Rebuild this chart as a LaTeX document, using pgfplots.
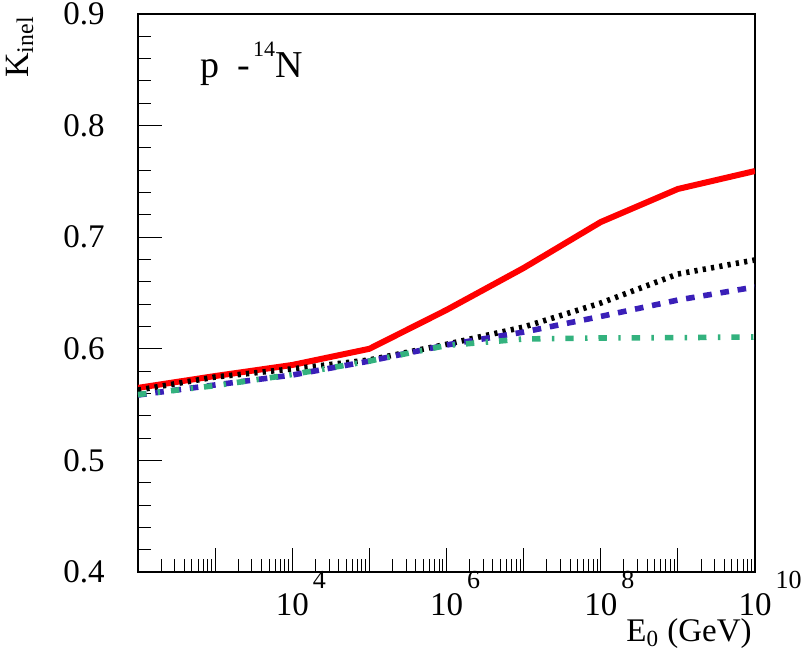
\documentclass[border=0pt]{standalone}
\usepackage{fontspec}
\setmainfont{Liberation Serif}
\usepackage{pgfplots}
\pgfplotsset{compat=1.18}
\definecolor{rootblue}{RGB}{58,31,184}
\definecolor{rootgreen}{RGB}{51,178,126}
\newcommand{\tfont}{\fontsize{16.5bp}{18bp}\selectfont}
\newcommand{\pw}[1]{10\rlap{\hspace{2bp}\smash{\raisebox{13.5bp}{\fontsize{13bp}{13bp}\selectfont #1}}}}

\begin{document}
\begin{tikzpicture}
\begin{axis}[
  scale only axis, width=308.5bp, height=279bp,
  xmode=log, xmin=1e2, xmax=1e10, ymin=0.4, ymax=0.9,
  axis line style={line width=1bp}, tick style={line width=0.5bp, black},
  tick align=inside, tick pos=left,
  major tick length=12bp, minor tick length=6.5bp,
  xtick={1e2,1e3,1e4,1e5,1e6,1e7,1e8,1e9,1e10},
  xticklabels={{},{},\pw{4},{},\pw{6},{},\pw{8},{},\pw{10}},
  minor xtick={2e2,3e2,4e2,5e2,6e2,7e2,8e2,9e2,2e3,3e3,4e3,5e3,6e3,7e3,8e3,9e3,
    2e4,3e4,4e4,5e4,6e4,7e4,8e4,9e4,2e5,3e5,4e5,5e5,6e5,7e5,8e5,9e5,
    2e6,3e6,4e6,5e6,6e6,7e6,8e6,9e6,2e7,3e7,4e7,5e7,6e7,7e7,8e7,9e7,
    2e8,3e8,4e8,5e8,6e8,7e8,8e8,9e8,2e9,3e9,4e9,5e9,6e9,7e9,8e9,9e9},
  ytick={0.4,0.5,0.6,0.7,0.8,0.9},
  yticklabels={0.4,0.5,0.6,0.7,0.8,0.9},
  minor y tick num=4,
  xticklabel style={font=\tfont, anchor=north, inner sep=0pt, yshift=-10.5bp},
  yticklabel style={font=\tfont, anchor=east, inner sep=0pt, xshift=-16.5bp},
  clip mode=individual,
]
\addplot[red, line width=3bp, line join=round] coordinates {
  (1e2,0.565) (1e3,0.5756) (1e4,0.5855) (1e5,0.600) (1e6,0.6348)
  (1e7,0.6724) (1e8,0.7136) (1e9,0.7432) (1e10,0.7593)};
\addplot[black, line width=2.8bp, dash pattern=on 1.6bp off 2.6bp] coordinates {
  (1e2,0.563) (1e3,0.5747) (1e4,0.582) (1e5,0.590) (1e6,0.604)
  (1e7,0.6195) (1e8,0.641) (1e9,0.667) (1e10,0.6796)};
\addplot[rootblue, line width=2.8bp, dash pattern=on 4.3bp off 4.4bp] coordinates {
  (1e2,0.5586) (1e3,0.5676) (1e4,0.5765) (1e5,0.589) (1e6,0.6034)
  (1e7,0.615) (1e8,0.629) (1e9,0.6437) (1e10,0.6554)};
\addplot[rootgreen, line width=2.8bp, dash pattern=on 4.2bp off 5.7bp on 1.2bp off 5.5bp] coordinates {
  (1e2,0.559) (1e3,0.567) (1e4,0.577) (1e5,0.589) (1e6,0.603)
  (1e7,0.6088) (1e8,0.6097) (1e9,0.610) (1e10,0.6106)};
\node[anchor=base west, xshift=31bp, yshift=-32bp, inner sep=0pt, font=\fontsize{19bp}{21bp}\selectfont]
  at (rel axis cs:0,1) {p\hspace{9bp}-\hspace{1.5bp}\raisebox{10.5bp}{\fontsize{11bp}{12bp}\selectfont 14}N};
\node[anchor=base east, xshift=-1.5bp, yshift=-34.5bp, inner sep=0pt, font=\fontsize{16.5bp}{18bp}\selectfont]
  at (rel axis cs:1,0) {E\textsubscript{0} (GeV)};
\node[xshift=-55bp, yshift=-1bp, rotate=90, anchor=base east, inner sep=0pt, font=\fontsize{17bp}{19bp}\selectfont]
  at (rel axis cs:0,1) {K\textsubscript{inel}};
\end{axis}
\pgfresetboundingbox
\path[use as bounding box] ([xshift=-69bp,yshift=-41bp]current axis.south west)
  rectangle ([xshift=23bp,yshift=7bp]current axis.north east);
\end{tikzpicture}
\end{document}
